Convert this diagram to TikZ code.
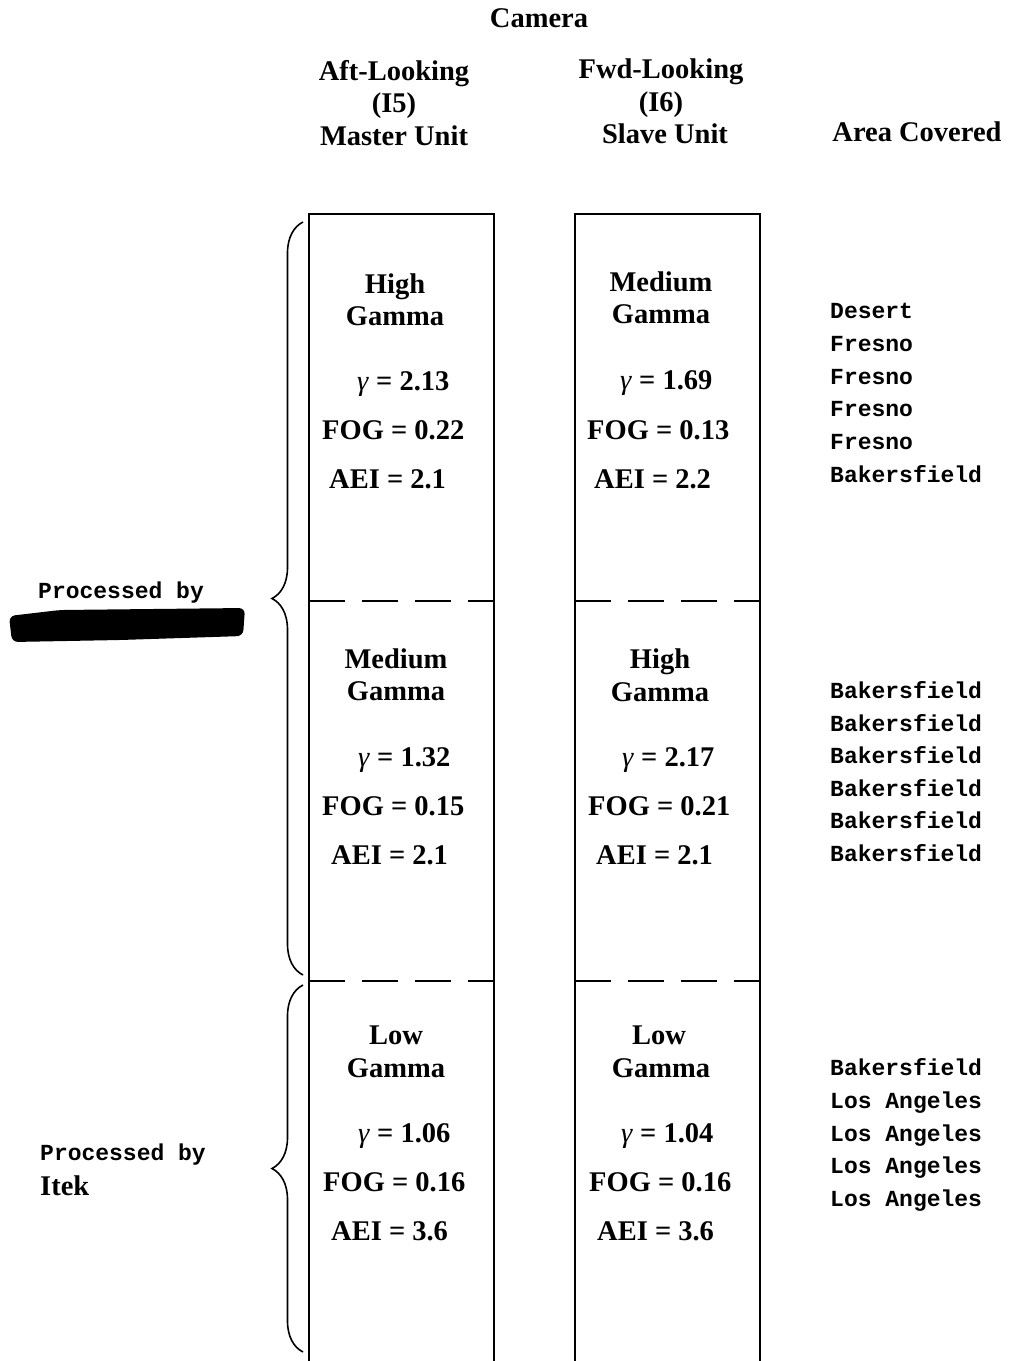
\documentclass[tikz,border=0pt]{standalone}
\usepackage{fontspec}
\setmainfont{Liberation Serif}
\newfontfamily\typefont{Liberation Mono}
\usetikzlibrary{decorations.pathreplacing}

\begin{document}
\begin{tikzpicture}[x=1pt, y=-1pt,
  lbl/.style={font=\bfseries\fontsize{28.5}{30}\selectfont, inner sep=0pt, anchor=base, yshift=-9pt},
  val/.style={lbl, anchor=base west},
  area/.style={font=\typefont\bfseries\fontsize{23}{25}\selectfont, inner sep=0pt, anchor=base west, yshift=-7.5pt},
  box/.style={line width=1.6pt},
  split/.style={line width=1.6pt, dash pattern=on 36pt off 17pt},
  curly/.style={line width=1.6pt, decorate, decoration={brace, amplitude=31pt}}]
 \useasboundingbox (0,0) rectangle (1012,1361);
 % headings
 \node [lbl] (cam)    at (539,18)  {Camera};
 \node [lbl] (aft)    at (394,71)  {Aft-Looking};
 \node [lbl] (aftno)  at (394,103) {(I5)};
 \node [lbl] (master) at (394,136) {Master Unit};
 \node [lbl] (fwd)    at (661,69)  {Fwd-Looking};
 \node [lbl] (fwdno)  at (661,102) {(I6)};
 \node [lbl] (slave)  at (665,134) {Slave Unit};
 \node [lbl] (area)   at (917,132) {Area Covered};
 % camera columns
 \draw [box] (309,1361) -- (309,214) -- (494,214) -- (494,1361);
 \draw [box] (575,1361) -- (575,214) -- (760,214) -- (760,1361);
 \foreach \y in {601,981} {
   \draw [split] (309,\y) -- (494,\y);
   \draw [split] (575,\y) -- (760,\y);
 }
 % aft-looking entries
 \node [lbl] (g1)  at (395,284) {High};
 \node [lbl] (g1b) at (395,316) {Gamma};
 \node [val] (v1a) at (357,381) {\textmd{\textit{γ}} = 2.13};
 \node [val] (v1b) at (322,430) {FOG = 0.22};
 \node [val] (v1c) at (329,479) {AEI = 2.1};
 \node [lbl] (g2)  at (396,659) {Medium};
 \node [lbl] (g2b) at (396,691) {Gamma};
 \node [val] (v2a) at (358,757) {\textmd{\textit{γ}} = 1.32};
 \node [val] (v2b) at (322,806) {FOG = 0.15};
 \node [val] (v2c) at (331,855) {AEI = 2.1};
 \node [lbl] (g3)  at (396,1035) {Low};
 \node [lbl] (g3b) at (396,1068) {Gamma};
 \node [val] (v3a) at (358,1133) {\textmd{\textit{γ}} = 1.06};
 \node [val] (v3b) at (323,1182) {FOG = 0.16};
 \node [val] (v3c) at (331,1231) {AEI = 3.6};
 % fwd-looking entries
 \node [lbl] (h1)  at (661,282) {Medium};
 \node [lbl] (h1b) at (661,314) {Gamma};
 \node [val] (w1a) at (620,380) {\textmd{\textit{γ}} = 1.69};
 \node [val] (w1b) at (587,430) {FOG = 0.13};
 \node [val] (w1c) at (594,479) {AEI = 2.2};
 \node [lbl] (h2)  at (660,659) {High};
 \node [lbl] (h2b) at (660,692) {Gamma};
 \node [val] (w2a) at (622,757) {\textmd{\textit{γ}} = 2.17};
 \node [val] (w2b) at (588,806) {FOG = 0.21};
 \node [val] (w2c) at (596,855) {AEI = 2.1};
 \node [lbl] (h3)  at (659,1035) {Low};
 \node [lbl] (h3b) at (661,1068) {Gamma};
 \node [val] (w3a) at (621,1133) {\textmd{\textit{γ}} = 1.04};
 \node [val] (w3b) at (589,1182) {FOG = 0.16};
 \node [val] (w3c) at (597,1231) {AEI = 3.6};
 % areas covered
 \foreach \place [count=\i] in {Desert, Fresno, Fresno, Fresno, Fresno, Bakersfield}
   \node [area] (a1-\i) at (830,311+32.8*\i-32.8) {\place};
 \foreach \place [count=\i] in {Bakersfield, Bakersfield, Bakersfield, Bakersfield, Bakersfield, Bakersfield}
   \node [area] (a2-\i) at (830,691+32.6*\i-32.6) {\place};
 \foreach \place [count=\i] in {Bakersfield, Los Angeles, Los Angeles, Los Angeles, Los Angeles}
   \node [area] (a3-\i) at (830,1068+32.8*\i-32.8) {\place};
 % processing
 \node [area] (proc1) at (38,591) {Processed by};
 \fill [rounded corners=6pt] (9,616) -- (60,610) -- (245,608) -- (243,636) -- (120,640) -- (12,642) -- cycle;
 \node [area] (proc2) at (40,1153) {Processed by};
 \node [lbl, anchor=base west] (itek) at (40,1186) {Itek};
 \draw [curly] (303,975) -- (303,222);
 \draw [curly] (303,1352) -- (303,985);
\end{tikzpicture}
\end{document}
